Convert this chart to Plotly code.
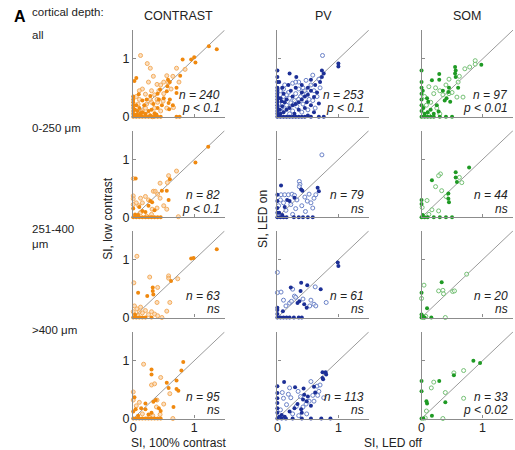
import plotly.graph_objects as go

# ---------------- data ----------------
columns = ["CONTRAST", "PV", "SOM"]
row_labels = ["all", "0-250 \u03bcm", "251-400<br>\u03bcm", ">400 \u03bcm"]
n_values = [[240, 253, 97], [82, 79, 44], [63, 61, 20], [95, 113, 33]]
p_labels = [["p < 0.1", "p < 0.1", "p < 0.01"],
            ["p < 0.1", "ns", "ns"],
            ["ns", "ns", "ns"],
            ["ns", "ns", "p < 0.02"]]
tick_vals = [0, 1]
axis_range = [0, 1.5]

# row 1 : all depths
contrast_all_filled = [(1.37,1.17),(1.24,1.22),(1.0,1.03),(0.95,0.99),(1.02,0.94),(0.81,0.99),(0.77,0.71),(0.57,0.64),
    (0.56,0.53),(0.71,0.5),(0.71,0.41),(0.44,0.47),(0.28,0.36),(0.09,0.39),(0.58,0.24),(0.59,0.13),(0.71,0.0),(0.76,0.0),
    (0.05,0.67),(0.02,0.62),(0.0,0.35),(0.0,0.3),(0.0,0.25),(0.0,0.2),(0.0,0.15),(0.0,0.1),(0.0,0.05),(0.0,0.0),
    (0.05,0.0),(0.1,0.0),(0.15,0.0),(0.2,0.0),(0.25,0.0),(0.3,0.0),(0.35,0.0),(0.4,0.0),(0.45,0.0),(0.02,0.02),
    (0.05,0.04),(0.08,0.03),(0.12,0.06),(0.15,0.08),(0.2,0.05),(0.25,0.1),(0.3,0.12),(0.35,0.06),(0.4,0.15),(0.18,0.2),
    (0.1,0.15),(0.05,0.2),(0.22,0.3),(0.33,0.22),(0.42,0.3),(0.5,0.32),(0.47,0.2),(0.15,0.28),(0.4,0.4),(0.55,0.44),
    (0.6,0.6),(0.03,0.12),(0.07,0.1),(0.28,0.02),(0.38,0.04),(0.12,0.02),(0.6,0.3),(0.65,0.2)]
contrast_all_open = [(0.12,1.06),(0.23,0.92),(0.28,0.84),(0.71,0.84),(0.85,0.82),(0.55,0.71),(0.58,0.59),(0.39,0.56),
    (0.2,0.39),(0.39,0.3),(0.49,0.27),(0.66,0.16),(0.3,0.45),(0.35,0.38),(0.45,0.55),(0.25,0.6),(0.15,0.48),(0.5,0.4),
    (0.62,0.48),(0.1,0.3),(0.2,0.15),(0.3,0.25),(0.08,0.22),(0.15,0.1),(0.25,0.04),(0.4,0.25),(0.45,0.1),(0.35,0.15),
    (0.55,0.15),(0.05,0.35),(0.1,0.45),(0.65,0.7),(0.75,0.6),(0.5,0.6),(0.33,0.7),(0.18,0.02),(0.32,0.0),(0.22,0.22),
    (0.28,0.3),(0.42,0.45)]
pv_all_filled = [(1.0,0.92),(1.0,0.87),(0.73,0.8),(0.76,0.75),(0.73,0.69),(0.2,0.75),(0.31,0.69),(0.55,0.64),(0.0,0.8),
    (0.0,0.69),(0.0,0.6),(0.0,0.5),(0.0,0.45),(0.0,0.4),(0.0,0.35),(0.0,0.3),(0.0,0.25),(0.0,0.2),(0.0,0.15),(0.0,0.1),
    (0.0,0.05),(0.0,0.0),(0.05,0.0),(0.1,0.0),(0.15,0.0),(0.2,0.0),(0.25,0.0),(0.3,0.0),(0.35,0.0),(0.4,0.0),(0.45,0.0),
    (0.55,0.0),(0.68,0.0),(0.76,0.0),(0.05,0.05),(0.1,0.08),(0.15,0.12),(0.2,0.15),(0.25,0.2),(0.3,0.22),(0.35,0.25),
    (0.4,0.3),(0.45,0.35),(0.5,0.38),(0.6,0.34),(0.68,0.23),(0.55,0.45),(0.15,0.3),(0.1,0.4),(0.22,0.45),(0.3,0.5),
    (0.4,0.55),(0.5,0.5),(0.62,0.55),(0.35,0.12),(0.45,0.15),(0.28,0.05),(0.12,0.25),(0.05,0.32),(0.08,0.18),(0.4,0.42),
    (0.65,0.42),(0.7,0.6),(0.25,0.35),(0.18,0.55),(0.48,0.25),(0.55,0.2),(0.6,0.08),(0.03,0.6),(0.08,0.5),(0.5,0.02),
    (0.02,0.02),(0.04,0.12),(0.07,0.27)]
pv_all_open = [(0.74,1.06),(0.47,0.63),(0.35,0.6),(0.25,0.58),(0.12,0.55),(0.45,0.45),(0.52,0.3),(0.6,0.45),(0.3,0.4),
    (0.38,0.35),(0.2,0.32),(0.15,0.2),(0.25,0.1),(0.32,0.18),(0.42,0.22),(0.5,0.12),(0.58,0.28),(0.65,0.35),(0.7,0.5),
    (0.1,0.35),(0.05,0.45),(0.18,0.42),(0.28,0.28),(0.35,0.48),(0.42,0.5),(0.22,0.24),(0.12,0.12),(0.08,0.22),(0.4,0.08),
    (0.62,0.15),(0.3,0.6),(0.55,0.55),(0.2,0.05),(0.48,0.4),(0.1,0.48),(0.68,0.65),(0.58,0.72),(0.05,0.15),(0.15,0.38),
    (0.35,0.3)]
som_all_filled = [(0.98,0.9),(0.55,0.86),(0.56,0.8),(0.55,0.75),(0.56,0.69),(0.17,0.63),(0.29,0.74),(0.29,0.64),(0.0,0.8),
    (0.0,0.6),(0.0,0.5),(0.0,0.4),(0.0,0.3),(0.0,0.2),(0.0,0.1),(0.0,0.0),(0.05,0.0),(0.1,0.0),(0.15,0.0),(0.2,0.0),
    (0.3,0.0),(0.4,0.0),(0.5,0.0),(0.44,0.43),(0.41,0.32),(0.47,0.26),(0.09,0.32),(0.11,0.26),(0.28,0.09),(0.6,0.5),
    (0.35,0.45),(0.05,0.05),(0.1,0.08),(0.2,0.05),(0.03,0.15),(0.15,0.12),(0.25,0.2),(0.45,0.5),(0.38,0.28),(0.02,0.45)]
som_all_open = [(0.88,0.97),(0.88,0.91),(0.71,0.83),(0.79,0.86),(0.12,0.52),(0.23,0.5),(0.58,0.34),(0.68,0.34),(0.3,0.45),
    (0.35,0.38),(0.45,0.4),(0.5,0.42),(0.2,0.4),(0.08,0.2),(0.15,0.25),(0.25,0.15),(0.6,0.6),(0.4,0.55),(0.05,0.35),
    (0.3,0.05),(0.12,0.02),(0.45,0.65),(0.62,0.7)]

# row 2 : 0-250 um
contrast_d1_filled = [(1.23,1.22),(1.02,0.95),(0.6,0.66),(0.04,0.67),(0.47,0.46),(0.55,0.46),(0.28,0.28),(0.31,0.26),
    (0.58,0.3),(0.15,0.11),(0.2,0.09),(0.0,0.0),(0.05,0.0),(0.1,0.0),(0.15,0.0),(0.2,0.0),(0.25,0.0),(0.3,0.0),(0.35,0.0),
    (0.4,0.0),(0.45,0.0),(0.03,0.05),(0.08,0.04),(0.0,0.15),(0.1,0.18),(0.35,0.12),(0.25,0.2)]
contrast_d1_open = [(0.71,0.8),(0.58,0.72),(0.56,0.6),(0.0,0.67),(0.44,0.59),(0.33,0.45),(0.36,0.45),(0.0,0.37),(0.0,0.32),
    (0.12,0.33),(0.2,0.36),(0.44,0.33),(0.55,0.14),(0.31,0.14),(0.39,0.16),(0.74,0.01),(0.09,0.2),(0.05,0.25),(0.15,0.25),
    (0.25,0.3),(0.4,0.4),(0.3,0.05),(0.12,0.08),(0.0,0.22),(0.5,0.2),(0.22,0.02)]
pv_d1_filled = [(0.06,0.55),(0.39,0.48),(0.41,0.46),(0.66,0.51),(0.68,0.45),(0.0,0.39),(0.0,0.28),(0.0,0.16),(0.0,0.0),
    (0.05,0.0),(0.1,0.0),(0.15,0.0),(0.27,0.0),(0.35,0.0),(0.42,0.0),(0.5,0.0),(0.58,0.0),(0.16,0.3),(0.2,0.28),(0.28,0.34),
    (0.12,0.18),(0.03,0.08),(0.08,0.04),(0.0,0.08)]
pv_d1_open = [(0.73,1.08),(0.36,0.62),(0.37,0.57),(0.36,0.53),(0.63,0.39),(0.6,0.33),(0.06,0.39),(0.12,0.39),(0.18,0.39),
    (0.24,0.4),(0.28,0.38),(0.49,0.28),(0.55,0.25),(0.58,0.16),(0.1,0.25),(0.22,0.22),(0.32,0.3),(0.45,0.35),(0.52,0.4),
    (0.05,0.3),(0.14,0.12),(0.3,0.15),(0.4,0.2),(0.25,0.05),(0.02,0.2),(0.46,0.1)]
som_d1_filled = [(0.78,0.86),(0.17,0.64),(0.56,0.78),(0.56,0.69),(0.58,0.61),(0.44,0.41),(0.44,0.32),(0.45,0.26),(0.0,0.3),
    (0.0,0.23),(0.0,0.0),(0.05,0.0),(0.1,0.0),(0.2,0.0),(0.3,0.0),(0.4,0.0),(0.5,0.0),(0.02,0.04)]
som_d1_open = [(0.31,0.75),(0.28,0.72),(0.62,0.69),(0.66,0.6),(0.23,0.53),(0.33,0.46),(0.01,0.17),(0.09,0.29),(0.17,0.13),
    (0.28,0.11),(0.4,0.36),(0.12,0.05)]

# row 3 : 251-400 um
contrast_d2_filled = [(1.37,1.18),(0.95,1.02),(0.99,1.03),(0.62,0.63),(0.32,0.52),(0.32,0.46),(0.08,0.43),(0.33,0.4),
    (0.23,0.37),(0.0,0.0),(0.05,0.0),(0.1,0.0),(0.15,0.0),(0.2,0.0),(0.3,0.0),(0.03,0.05)]
contrast_d2_open = [(0.06,1.06),(0.01,0.6),(0.27,0.7),(0.58,0.72),(0.58,0.68),(0.73,0.67),(0.4,0.52),(0.39,0.26),(0.6,0.26),
    (0.55,0.11),(0.47,0.0),(0.02,0.2),(0.06,0.15),(0.1,0.1),(0.15,0.08),(0.2,0.12),(0.25,0.05),(0.3,0.1),(0.35,0.06),
    (0.08,0.03),(0.12,0.18),(0.0,0.1),(0.4,0.03)]
pv_d2_filled = [(0.99,0.95),(1.0,0.89),(0.39,0.6),(0.49,0.56),(0.22,0.52),(0.71,0.49),(0.38,0.46),(0.36,0.28),(0.33,0.25),
    (0.44,0.23),(0.48,0.17),(0.0,0.17),(0.0,0.13),(0.0,0.06),(0.09,0.11),(0.0,0.0),(0.05,0.0),(0.1,0.0),(0.15,0.0),
    (0.2,0.0),(0.27,0.0),(0.35,0.0),(0.4,0.0)]
pv_d2_open = [(0.0,0.78),(0.0,0.43),(0.06,0.44),(0.25,0.49),(0.62,0.53),(0.28,0.37),(0.2,0.25),(0.23,0.28),(0.53,0.2),
    (0.6,0.23),(0.63,0.2),(0.8,0.26),(0.14,0.2),(0.3,0.35),(0.42,0.32),(0.55,0.3),(0.1,0.3)]
som_d2_filled = [(0.33,0.61),(0.0,0.43),(0.09,0.16),(0.0,0.0),(0.02,0.02),(0.05,0.0),(0.16,0.0),(0.0,0.05)]
som_d2_open = [(0.74,0.75),(0.04,0.56),(0.28,0.46),(0.35,0.47),(0.36,0.41),(0.51,0.45),(0.54,0.46),(0.0,0.33),(0.39,0.0),
    (0.03,0.0),(0.07,0.02)]

# row 4 : >400 um
contrast_d3_filled = [(0.82,0.98),(0.79,0.83),(0.3,0.85),(0.3,0.76),(0.55,0.62),(0.71,0.66),(0.71,0.51),(0.74,0.48),
    (0.58,0.53),(0.02,0.37),(0.2,0.26),(0.33,0.29),(0.37,0.32),(0.13,0.18),(0.2,0.16),(0.66,0.2),(0.04,0.16),(0.0,0.0),
    (0.05,0.0),(0.1,0.0),(0.15,0.0),(0.2,0.0),(0.25,0.0),(0.3,0.0),(0.35,0.0),(0.4,0.0),(0.45,0.0),(0.42,0.18),(0.45,0.13),
    (0.3,0.1),(0.25,0.07),(0.0,0.12),(0.08,0.05)]
contrast_d3_open = [(0.17,0.94),(0.45,0.71),(0.3,0.58),(0.35,0.6),(0.6,0.43),(0.0,0.46),(0.0,0.32),(0.39,0.32),(0.65,0.0),
    (0.44,0.07),(0.32,0.05),(0.26,0.03),(0.15,0.08),(0.5,0.25),(0.1,0.28),(0.05,0.22),(0.38,0.2)]
pv_d3_filled = [(0.74,0.8),(0.79,0.8),(0.8,0.76),(0.74,0.7),(0.75,0.68),(0.11,0.63),(0.29,0.54),(0.43,0.52),(0.0,0.56),
    (0.0,0.44),(0.0,0.35),(0.0,0.27),(0.0,0.18),(0.0,0.1),(0.0,0.0),(0.07,0.0),(0.14,0.0),(0.25,0.0),(0.4,0.0),(0.55,0.0),
    (0.72,0.0),(0.87,0.0),(0.44,0.41),(0.5,0.38),(0.42,0.33),(0.48,0.3),(0.28,0.18),(0.39,0.16),(0.4,0.1),(0.07,0.06),
    (0.12,0.03),(0.6,0.55),(0.55,0.22),(0.33,0.25),(0.2,0.12),(0.62,0.45),(0.03,0.03)]
pv_d3_open = [(0.55,0.64),(0.2,0.53),(0.34,0.47),(0.65,0.56),(0.68,0.47),(0.66,0.4),(0.76,0.36),(0.22,0.36),(0.15,0.24),
    (0.31,0.21),(0.42,0.2),(0.47,0.25),(0.52,0.3),(0.38,0.38),(0.6,0.3),(0.1,0.35),(0.05,0.15),(0.25,0.08),(0.35,0.05),
    (0.48,0.08),(0.7,0.58),(0.58,0.4),(0.18,0.42),(0.08,0.45)]
som_d3_filled = [(0.85,1.0),(0.96,0.96),(0.53,0.75),(0.29,0.65),(0.0,0.65),(0.0,0.47),(0.08,0.3),(0.09,0.26),(0.39,0.28),
    (0.17,0.05),(0.0,0.0),(0.03,0.0)]
som_d3_open = [(0.69,0.83),(0.53,0.79),(0.2,0.63),(0.16,0.53),(0.39,0.45),(0.69,0.35),(0.08,0.13),(0.35,0.0),(0.06,0.01)]

panels = [
    [(contrast_all_filled, contrast_all_open), (pv_all_filled, pv_all_open), (som_all_filled, som_all_open)],
    [(contrast_d1_filled, contrast_d1_open), (pv_d1_filled, pv_d1_open), (som_d1_filled, som_d1_open)],
    [(contrast_d2_filled, contrast_d2_open), (pv_d2_filled, pv_d2_open), (som_d2_filled, som_d2_open)],
    [(contrast_d3_filled, contrast_d3_open), (pv_d3_filled, pv_d3_open), (som_d3_filled, som_d3_open)],
]

# ---------------- styling ----------------
W, H_REF = 515, 450          # reference picture size; positions below are in its pixels
H = 458                      # figure height (the captured page is slightly taller than the window)
FONT = "Liberation Sans, Arial, sans-serif"
AX = "#8c8c8c"
filled_colors = ["#f0890f", "#1c2f96", "#1f9a24"]
open_line = ["#f4ad5e", "#6b82c8", "#74c074"]
open_fill = ["rgba(248,196,140,0.55)", "rgba(255,255,255,0.6)", "rgba(255,255,255,0.6)"]

col_left_px = [131, 276, 421]
col_width_px = 92
row_bottom_px = [116.5, 216.8, 316.8, 417.6]
row_height_px = 86.5

def fx(px):
    return px / W

def fy(py):
    return 1 - py / H_REF

fig = go.Figure()
layout = {}
annotations = []

for r in range(4):
    for c in range(3):
        k = r * 3 + c + 1
        xs = "" if k == 1 else str(k)
        xname, yname = "x" + xs, "y" + xs
        common = dict(range=axis_range, showgrid=False, zeroline=False, showline=True, linecolor=AX,
                      linewidth=1.4, ticks="inside", ticklen=3, tickcolor=AX, tickwidth=1,
                      tickvals=tick_vals, tickfont=dict(family=FONT, size=12.5, color="#222"))
        layout["xaxis" + xs] = dict(common, domain=[fx(col_left_px[c]), fx(col_left_px[c] + col_width_px)],
                                    anchor=yname, showticklabels=(r == 3), ticklabelstandoff=-3)
        layout["yaxis" + xs] = dict(common, domain=[fy(row_bottom_px[r]), fy(row_bottom_px[r] - row_height_px)],
                                    anchor=xname, showticklabels=(c == 0))

        fig.add_trace(go.Scatter(x=axis_range, y=axis_range, mode="lines", xaxis=xname, yaxis=yname,
                                 line=dict(color="#9a9a9a", width=1), hoverinfo="skip", showlegend=False))
        filled, opened = panels[r][c]
        fig.add_trace(go.Scatter(x=[p[0] for p in opened], y=[p[1] for p in opened], mode="markers",
                                 xaxis=xname, yaxis=yname, cliponaxis=False, showlegend=False,
                                 marker=dict(size=4, color=open_fill[c], line=dict(color=open_line[c], width=1))))
        fig.add_trace(go.Scatter(x=[p[0] for p in filled], y=[p[1] for p in filled], mode="markers",
                                 xaxis=xname, yaxis=yname, cliponaxis=False, showlegend=False,
                                 marker=dict(size=4, color=filled_colors[c], line=dict(width=0))))

        annotations.append(dict(x=1.45, y=0.38, xref=xname, yref=yname, text="<i>n = %d</i>" % n_values[r][c],
                                showarrow=False, xanchor="right", yanchor="middle",
                                font=dict(family=FONT, size=12, color="#222")))
        annotations.append(dict(x=1.45, y=0.15, xref=xname, yref=yname, text="<i>%s</i>" % p_labels[r][c],
                                showarrow=False, xanchor="right", yanchor="middle",
                                font=dict(family=FONT, size=12, color="#222")))

def pa(x, y, text, size=12, xanchor="center", yanchor="middle", angle=0, color="#222"):
    annotations.append(dict(x=fx(x), y=fy(y), xref="paper", yref="paper", text=text, showarrow=False,
                            xanchor=xanchor, yanchor=yanchor, textangle=angle, align="left",
                            font=dict(family=FONT, size=size, color=color)))

# column titles
for c, name in enumerate(columns):
    pa(col_left_px[c] + col_width_px / 2, 16, name, size=12.5)

# panel letter and row labels
pa(9, 16, "<b>A</b>", size=16, xanchor="left", color="#000")
pa(27, 12, "cortical depth:", size=11.5, xanchor="left")
row_label_y = [35, 128, 236, 329]
for r, lab in enumerate(row_labels):
    pa(27, row_label_y[r], lab, size=11.5, xanchor="left")

# axis titles
pa(106, 218, "SI, low contrast", size=12, angle=-90)
pa(262, 218, "SI, LED on", size=12, angle=-90)
pa(177, 442.5, "SI, 100% contrast", size=12)
pa(392, 442.5, "SI, LED off", size=12)

fig.update_layout(**layout)
fig.update_layout(width=W, height=H, margin=dict(l=0, r=0, t=0, b=0), paper_bgcolor="white",
                  plot_bgcolor="white", annotations=annotations, showlegend=False, hovermode=False)
# remove the browser's default page margin so the figure sits at the window's corner
fig.write_html("out.html", config={"displayModeBar": False},
               post_script="document.body.style.margin='0';document.body.style.overflow='hidden';")
